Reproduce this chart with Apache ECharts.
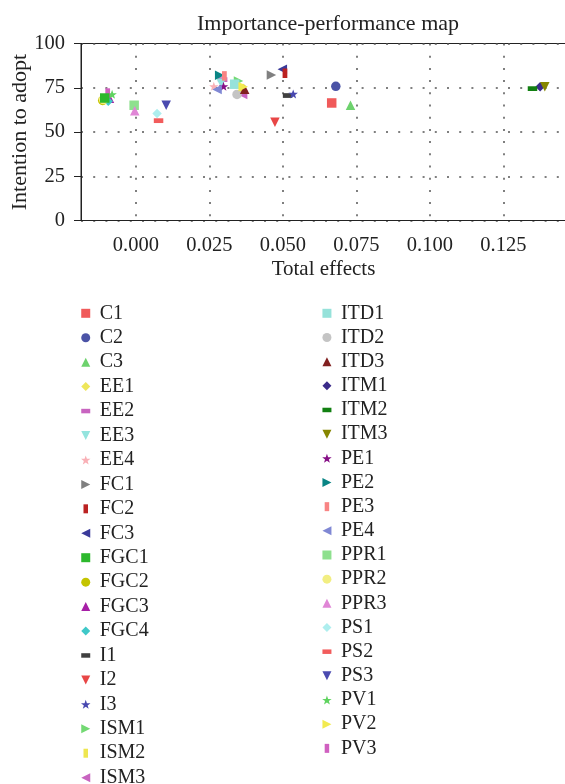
<!DOCTYPE html>
<html>
<head>
<meta charset="utf-8">
<script src="https://cdn.jsdelivr.net/npm/echarts@6/dist/echarts.min.js"></script>
<style>
html, body { margin: 0; padding: 0; background: #fff; }
#chart { width: 565px; height: 784px; }
</style>
</head>
<body>
<div id="chart"></div>
<script>
// constructs
const names = ['C1', 'C2', 'C3', 'EE1', 'EE2', 'EE3', 'EE4', 'FC1', 'FC2', 'FC3',
  'FGC1', 'FGC2', 'FGC3', 'FGC4', 'I1', 'I2', 'I3', 'ISM1', 'ISM2', 'ISM3',
  'ITD1', 'ITD2', 'ITD3', 'ITM1', 'ITM2', 'ITM3', 'PE1', 'PE2', 'PE3', 'PE4',
  'PPR1', 'PPR2', 'PPR3', 'PS1', 'PS2', 'PS3', 'PV1', 'PV2', 'PV3'];

const totalEffects = [0.0666, 0.0680, 0.0730, -0.0110, 0.0295, 0.0290, 0.0265, 0.0461, 0.0507, 0.0498,
  -0.0106, -0.0113, -0.0090, -0.0094, 0.0516, 0.0473, 0.0535, 0.0349, 0.0360, 0.0363,
  0.0336, 0.0344, 0.0370, 0.1375, 0.1349, 0.1391, 0.0298, 0.0285, 0.0301, 0.0276,
  -0.0006, -0.0110, -0.0004, 0.0072, 0.0077, 0.0103, -0.0081, 0.0365, -0.0096];

const intention = [66.4, 75.8, 65.1, 68.0, 79.6, 77.5, 75.8, 82.2, 83.2, 85.5,
  69.2, 67.8, 69.0, 67.4, 70.6, 55.5, 71.5, 78.8, 74.5, 71.2,
  77.0, 71.2, 74.2, 75.5, 74.5, 75.5, 75.8, 82.1, 81.7, 74.0,
  65.1, 68.3, 62.0, 60.4, 56.4, 65.1, 71.3, 75.5, 72.0];

const xTicks = [0, 0.025, 0.05, 0.075, 0.1, 0.125];
const yTicks = [0, 25, 50, 75, 100];

// marker styles (cycle of 10 shapes); bars keep a square bounding box via the leading moves
const shapes = {
  square: 'path://M0,0H10V10H0Z',
  circle: 'path://M5,0A5,5,0,1,1,5,10A5,5,0,1,1,5,0Z',
  up: 'path://M5,0L10,10L0,10Z',
  diamond: 'path://M5,0L10,5L5,10L0,5Z',
  hbar: 'path://M0,0M10,10M0,2.5H10V7.5H0Z',
  down: 'path://M0,0L10,0L5,10Z',
  star: 'path://M5,0L6.18,3.38L9.76,3.45L6.9,5.62L7.94,9.05L5,7L2.06,9.05L3.1,5.62L0.24,3.45L3.82,3.38Z',
  right: 'path://M0,0L10,5L0,10Z',
  vbar: 'path://M0,0M10,10M2.5,0H7.5V10H2.5Z',
  left: 'path://M10,0L0,5L10,10Z'
};
const shapeCycle = ['square', 'circle', 'up', 'diamond', 'hbar', 'down', 'star', 'right', 'vbar', 'left'];

const colors = ['#f05a5a', '#4b53a6', '#6dd26d', '#eee65a', '#c864c0', '#94e4de', '#f9b0b6', '#808080', '#bb2222', '#3a3a9a',
  '#2db82d', '#c4c400', '#a61fa6', '#3fc8c8', '#404040', '#e84646', '#4848b0', '#73d973', '#eee650', '#c864c0',
  '#96e2da', '#c4c4c4', '#822020', '#3b2b8a', '#128012', '#868600', '#860f86', '#0a8585', '#f88484', '#8088d4',
  '#8ee08e', '#f2ee82', '#e086d6', '#aeeeee', '#f25c5c', '#4a4ab0', '#5fd35f', '#f2ea50', '#d060c0'];

const font = "'Liberation Serif', 'DejaVu Serif', serif";
const ink = '#222';
const dots = { type: [2, 10.2], color: '#555', width: 1.5 };

const chart = echarts.init(document.getElementById('chart'));

const series = names.map((n, i) => ({
  name: n,
  type: 'scatter',
  z: (n === 'FGC1' || n === 'FC2') ? 3 : 2,
  data: [[totalEffects[i], intention[i]]],
  symbol: shapes[shapeCycle[i % 10]],
  symbolSize: 9.5,
  symbolKeepAspect: true,
  itemStyle: { color: colors[i], opacity: 1 },
  emphasis: { disabled: true }
}));

const legendBase = {
  orient: 'vertical',
  top: 298.3,
  height: 700,
  itemWidth: 18,
  itemHeight: 9,
  selectedMode: false,
  textStyle: { fontFamily: font, fontSize: 20, lineHeight: 20, color: ink }
};

chart.setOption({
  animation: false,
  backgroundColor: '#fff',
  title: {
    text: 'Importance-performance map',
    left: 323,
    top: 8,
    textAlign: 'center',
    textStyle: { fontFamily: font, fontSize: 22, fontWeight: 'normal', color: ink }
  },
  legend: [
    Object.assign({}, legendBase, { data: names.slice(0, 20), left: 76, itemGap: 4.44 }),
    Object.assign({}, legendBase, { data: names.slice(20), left: 317.2, itemGap: 4.17 })
  ],
  grid: {
    left: 81, top: 43.5, right: -1, bottom: 563.5,
    outerBoundsMode: 'none',
    containLabel: false,
    show: true, borderColor: ink, borderWidth: 1
  },
  xAxis: {
    type: 'value',
    min: -0.01868,
    max: 0.1463,
    name: 'Total effects',
    nameLocation: 'middle',
    nameGap: 38,
    nameMoveOverlap: false,
    nameTextStyle: { fontFamily: font, fontSize: 21, color: ink },
    axisLine: { show: true, onZero: false, lineStyle: { color: ink } },
    axisTick: { show: false, customValues: xTicks },
    axisLabel: {
      customValues: xTicks,
      formatter: v => v.toFixed(3),
      margin: 15,
      fontFamily: font, fontSize: 20.5, color: ink
    },
    splitLine: { show: true, lineStyle: dots }
  },
  yAxis: {
    type: 'value',
    min: yTicks[0],
    max: yTicks[yTicks.length - 1],
    interval: 25,
    name: 'Intention to adopt',
    nameLocation: 'middle',
    nameGap: 50,
    nameMoveOverlap: false,
    nameTextStyle: { fontFamily: font, fontSize: 22, color: ink },
    axisLine: { show: true, onZero: false, lineStyle: { color: ink } },
    axisTick: { show: true, length: 7, lineStyle: { color: ink } },
    axisLabel: { margin: 16, fontFamily: font, fontSize: 20.5, color: ink },
    splitLine: { show: true, lineStyle: dots }
  },
  series: series
});
</script>
</body>
</html>
